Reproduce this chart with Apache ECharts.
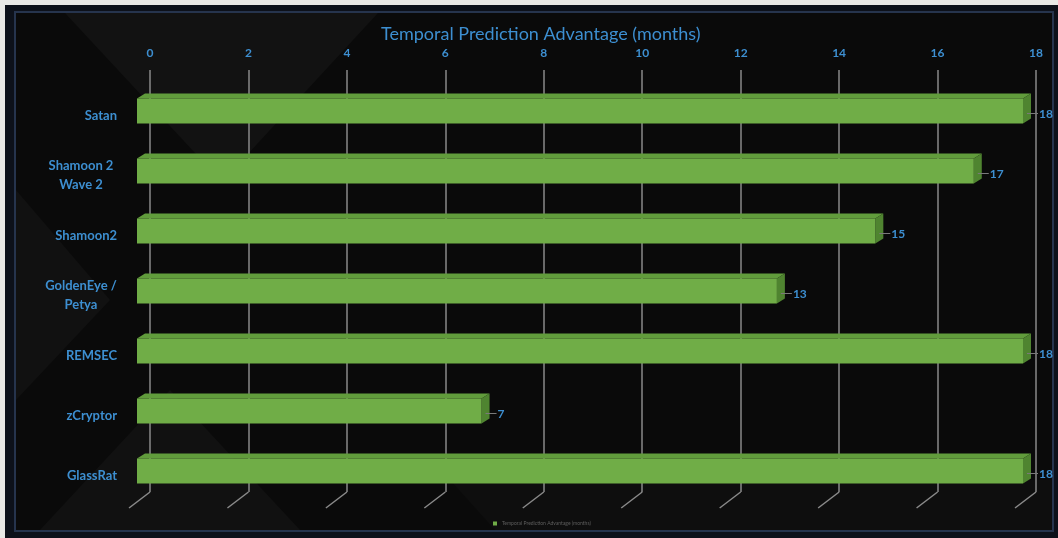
<!DOCTYPE html>
<html>
<head>
<meta charset="utf-8">
<script src="https://cdn.jsdelivr.net/npm/echarts@6/dist/echarts.min.js"></script>
<style>
  html, body { margin: 0; padding: 0; background: #e9e9e6; }
  #chart { width: 1058px; height: 538px; }
</style>
</head>
<body>
<div id="chart"></div>
<script>
// 数据
const seriesName = 'Temporal Prediction Advantage (months)'
const categories = ['Satan', 'Shamoon 2\nWave 2', 'Shamoon2', 'GoldenEye /\nPetya', 'REMSEC', 'zCryptor', 'GlassRat']
const months = [18, 17, 15, 13, 18, 7, 18]
const xTicks = [0, 2, 4, 6, 8, 10, 12, 14, 16, 18]

const blue = '#3d8fd1'
const font = 'Lato, "Open Sans", sans-serif'

const chart = echarts.init(document.getElementById('chart'))

// 3D 柱子的偏移
const frontShift = -13
const depth = [8, -5]

const renderBar = (params, api) => {
    const v = api.value(0)
    const c = api.value(1)
    const p0 = api.coord([0, c])
    const p1 = api.coord([v, c])
    const yc = p0[1]
    const xl = p0[0] + frontShift
    const xr = p1[0] + frontShift
    const yt = yc - 17
    const yb = yc + 8
    const dx = depth[0], dy = depth[1]
    return {
        type: 'group',
        children: [
            {
                type: 'polygon',
                shape: { points: [[xl, yt], [xl + dx, yt + dy], [xr + dx, yt + dy], [xr, yt]] },
                style: { fill: '#619c3c' }
            },
            {
                type: 'polygon',
                shape: { points: [[xr, yt], [xr + dx, yt + dy], [xr + dx, yb + dy], [xr, yb]] },
                style: { fill: '#4f8430' }
            },
            {
                type: 'rect',
                shape: { x: xl, y: yt, width: xr - xl, height: yb - yt },
                style: { fill: '#70ad47' }
            },
            {
                type: 'line',
                shape: { x1: xr + 4, y1: yc - 2, x2: xr + 15, y2: yc - 2 },
                style: { stroke: '#7a7a7a', lineWidth: 1 }
            },
            {
                type: 'text',
                style: {
                    text: String(v), x: xr + 16, y: yc - 1.5,
                    verticalAlign: 'middle', fill: blue,
                    font: 'bold 12px ' + font
                }
            }
        ]
    }
}

// 底部透视线
const renderFloor = (params, api) => {
    const p = api.coord([api.value(0), 0])
    return {
        type: 'line',
        shape: { x1: p[0], y1: p[1], x2: p[0] - 21, y2: p[1] + 16 },
        style: { stroke: '#8a8a8a', lineWidth: 1.5 }
    }
}

// 两行的标签居中显示
const formatCategory = (value) => {
    if (value.indexOf('\n') < 0) return value
    return value.split('\n').map(s => '{c|' + s + '}').join('\n')
}

const option = {
    backgroundColor: '#e9e9e6',
    graphic: [
        { type: 'rect', z: -10, shape: { x: 5, y: 5, width: 1053, height: 533 }, style: { fill: '#0d111a' } },
        { type: 'rect', z: -9, shape: { x: 15, y: 12, width: 1038, height: 519 }, style: { fill: '#0a0a0a', stroke: '#26344d', lineWidth: 2 } },
        { type: 'polygon', z: -8, shape: { points: [[65, 13], [378, 13], [222, 182]] }, style: { fill: '#121212' } },
        { type: 'polygon', z: -8, shape: { points: [[16, 190], [110, 300], [16, 400]] }, style: { fill: '#111111' } },
        { type: 'polygon', z: -8, shape: { points: [[40, 530], [300, 530], [170, 390]] }, style: { fill: '#111111' } },
        { type: 'polygon', z: -8, shape: { points: [[450, 480], [1052, 480], [1052, 530], [495, 530]] }, style: { fill: '#0e0e0e' } }
    ],
    title: {
        text: seriesName,
        left: 376,
        top: 20,
        textStyle: { color: blue, fontSize: 18, fontWeight: 'normal', fontFamily: font }
    },
    legend: {
        data: [{ name: seriesName, icon: 'rect' }],
        left: 488,
        top: 516,
        itemWidth: 4,
        itemHeight: 4,
        itemGap: 3,
        textStyle: { color: '#5f5f5f', fontSize: 5, fontFamily: font }
    },
    grid: [
        { left: 150, right: 22, top: 70, bottom: 46 },
        { left: 150, right: 22, top: 85.5, bottom: 32.5 }
    ],
    xAxis: [
        {
            gridIndex: 0,
            type: 'value',
            position: 'top',
            min: 0,
            max: 18,
            interval: 2,
            axisLine: { show: false },
            axisTick: { show: false },
            splitLine: { lineStyle: { color: '#8a8a8a', width: 1.5 } },
            axisLabel: { color: blue, fontSize: 12, fontWeight: 'bold', fontFamily: font, margin: 11 }
        },
        {
            gridIndex: 1,
            type: 'value',
            min: 0,
            max: 18,
            show: false
        }
    ],
    yAxis: [
        { gridIndex: 0, type: 'value', min: 0, max: 1, show: false },
        {
            gridIndex: 1,
            type: 'category',
            data: categories,
            inverse: true,
            axisLine: { show: false },
            axisTick: { show: false },
            axisLabel: {
                color: blue, fontSize: 13, fontWeight: 'bold', fontFamily: font,
                margin: 33, lineHeight: 19, align: 'right',
                formatter: formatCategory,
                rich: {
                    c: {
                        width: 72, align: 'center', color: blue, fontSize: 13,
                        fontWeight: 'bold', fontFamily: font, lineHeight: 19
                    }
                }
            }
        }
    ],
    series: [
        {
            type: 'custom',
            name: 'floor',
            xAxisIndex: 0,
            yAxisIndex: 0,
            renderItem: renderFloor,
            data: xTicks.map(v => [v]),
            silent: true
        },
        {
            type: 'custom',
            name: seriesName,
            xAxisIndex: 1,
            yAxisIndex: 1,
            itemStyle: { color: '#70ad47' },
            renderItem: renderBar,
            encode: { x: 0, y: 1 },
            data: months.map((m, i) => [m, i])
        }
    ]
}

chart.setOption(option)

window.addEventListener('resize', () => {
    chart.resize()
})
</script>
</body>
</html>
